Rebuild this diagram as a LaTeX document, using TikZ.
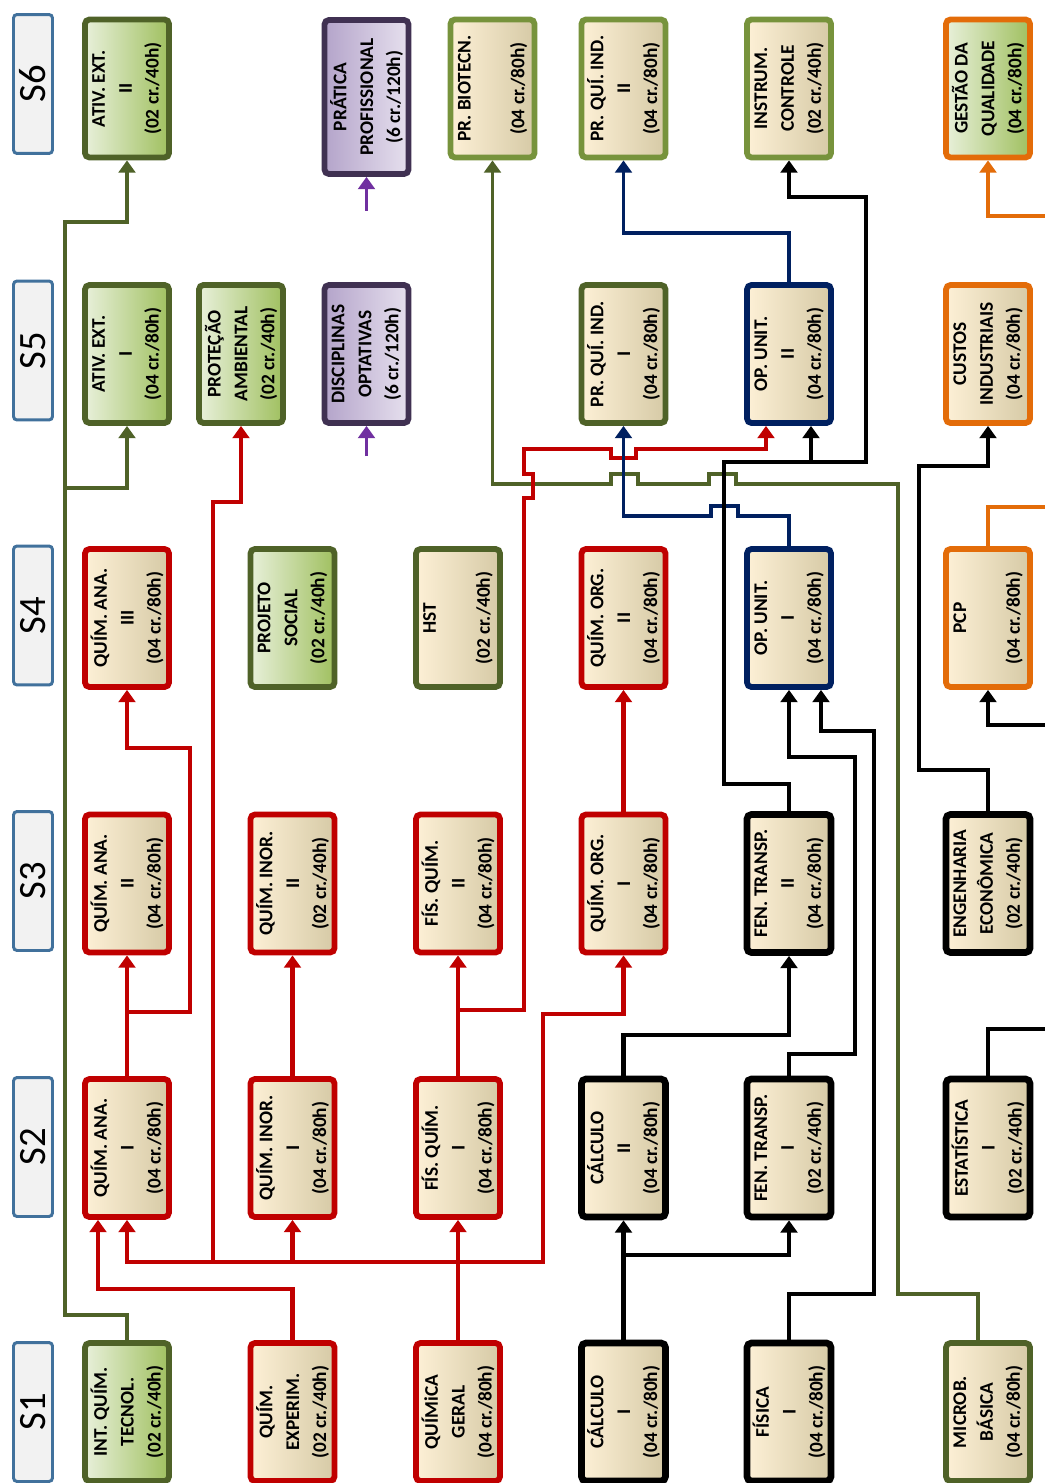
\documentclass[tikz,border=0pt]{standalone}
\usepackage{fontspec}
\setmainfont{Carlito}
\usepackage{xcolor}
\usepackage{tikz}
\usetikzlibrary{arrows.meta,positioning}
\definecolor{chemRed}{RGB}{192,0,0}
\definecolor{oliveDark}{RGB}{79,98,40}
\definecolor{oliveLight}{RGB}{119,147,60}
\definecolor{opNavy}{RGB}{0,32,96}
\definecolor{mgmtOrange}{RGB}{227,108,9}
\definecolor{optPurple}{RGB}{64,49,82}
\definecolor{arrowPurple}{RGB}{112,48,160}
\definecolor{semBlue}{RGB}{65,113,156}
\definecolor{semGray}{RGB}{242,242,242}
\definecolor{creamL}{RGB}{253,240,214}
\definecolor{creamR}{RGB}{214,202,166}
\definecolor{leafL}{RGB}{232,240,218}
\definecolor{leafR}{RGB}{160,192,96}
\definecolor{lilacL}{RGB}{180,164,202}
\definecolor{lilacR}{RGB}{230,224,238}

\tikzset{
  course/.style={rotate=90, draw, line width=3.3pt, rounded corners=2.5pt,
    minimum width=2.76cm, minimum height=1.68cm, inner sep=0pt, align=center,
    font=\bfseries\fontsize{11}{15.3}\selectfont},
  cream/.style={left color=creamL, right color=creamR},
  leaf/.style={left color=leafL, right color=leafR},
  lilac/.style={left color=lilacL, right color=lilacR},
  chem/.style={course, cream, draw=chemRed},
  mathbox/.style={course, cream, draw=black, line width=3.8pt},
  unitop/.style={course, cream, draw=opNavy},
  mgmt/.style={course, cream, draw=mgmtOrange},
  practice/.style={course, cream, draw=oliveLight},
  ext/.style={course, leaf, draw=oliveDark},
  general/.style={course, cream, draw=oliveDark},
  optional/.style={course, lilac, draw=optPurple},
  semester/.style={rotate=90, draw=semBlue, fill=semGray, line width=1.7pt,
    rounded corners=2pt, minimum width=2.78cm, minimum height=0.78cm,
    inner sep=0pt, font=\fontsize{22}{22}\selectfont},
  link/.style={line width=2.2pt, -{Triangle[length=7pt,width=9.5pt]}},
  chemlink/.style={link, draw=chemRed, line width=2.3pt},
  mathlink/.style={link, draw=black, line width=2.3pt},
  oplink/.style={link, draw=opNavy},
  extlink/.style={link, draw=oliveDark, line width=2pt},
  mgmtlink/.style={link, draw=mgmtOrange, line width=2pt},
  optlink/.style={link, draw=arrowPurple},
}

\begin{document}
\begin{tikzpicture}[x=0.02cm,y=-0.02cm]
    \useasboundingbox (0,0) rectangle (1044,1483);
    \fill[white] (0,0) rectangle (1044,1483);

    % semesters
    \node[semester] (s6) at (33,84) {S6};
    \node[semester] (s5) at (33,350.5) {S5};
    \node[semester] (s4) at (33,615.5) {S4};
    \node[semester] (s3) at (33,881) {S3};
    \node[semester] (s2) at (33,1147) {S2};
    \node[semester] (s1) at (33,1412) {S1};

    % S6
    \node[ext] (ae2) at (127,88.5) {ATIV. EXT.\\II\\(02 cr./40h)};
    \node[optional, minimum width=3.08cm] (pp) at (366.5,97) {PRÁTICA\\PROFISSIONAL\\(6 cr./120h)};
    \node[practice] (pbio) at (492.5,88.5) {PR. BIOTECN.\\\mbox{}\\(04 cr./80h)};
    \node[practice] (pqi2) at (623.5,88.5) {PR. QUÍ. IND.\\II\\(04 cr./80h)};
    \node[practice] (ins) at (789,88.5) {INSTRUM.\\CONTROLE\\(02 cr./40h)};
    \node[mgmt, leaf] (gq) at (988,88.5) {GESTÃO DA\\QUALIDADE\\(04 cr./80h)};

    % S5
    \node[ext] (ae1) at (127,354) {ATIV. EXT.\\I\\(04 cr./80h)};
    \node[ext] (pa) at (241,354) {PROTEÇÃO\\AMBIENTAL\\(02 cr./40h)};
    \node[optional] (do) at (366.5,354) {DISCIPLINAS\\OPTATIVAS\\(6 cr./120h)};
    \node[general] (pqi1) at (623.5,354) {PR. QUÍ. IND.\\I\\(04 cr./80h)};
    \node[unitop] (ou2) at (789,354) {OP. UNIT.\\II\\(04 cr./80h)};
    \node[mgmt] (ci) at (988,354) {CUSTOS\\INDUSTRIAIS\\(04 cr./80h)};

    % S4
    \node[chem] (qa3) at (127,618) {QUÍM. ANA.\\III\\(04 cr./80h)};
    \node[ext] (ps) at (292.5,618) {PROJETO\\SOCIAL\\(02 cr./40h)};
    \node[general] (hst) at (458,618) {HST\\\mbox{}\\(02 cr./40h)};
    \node[chem] (qo2) at (623.5,618) {QUÍM. ORG.\\II\\(04 cr./80h)};
    \node[unitop] (ou1) at (789,618) {OP. UNIT.\\I\\(04 cr./80h)};
    \node[mgmt] (pcp) at (988,618) {PCP\\\mbox{}\\(04 cr./80h)};

    % S3
    \node[chem] (qa2) at (127,883.5) {QUÍM. ANA.\\II\\(04 cr./80h)};
    \node[chem] (qi2) at (292.5,883.5) {QUÍM. INOR.\\II\\(02 cr./40h)};
    \node[chem] (fq2) at (458,883.5) {FÍS. QUÍM.\\II\\(04 cr./80h)};
    \node[chem] (qo1) at (623.5,883.5) {QUÍM. ORG.\\I\\(04 cr./80h)};
    \node[mathbox] (ft2) at (789,883.5) {FEN. TRANSP.\\II\\(04 cr./80h)};
    \node[mathbox] (ee) at (988,883.5) {ENGENHARIA\\ECONÔMICA\\(02 cr./40h)};

    % S2
    \node[chem] (qa1) at (127,1148) {QUÍM. ANA.\\I\\(04 cr./80h)};
    \node[chem] (qi1) at (292.5,1148) {QUÍM. INOR.\\I\\(04 cr./80h)};
    \node[chem] (fq1) at (458,1148) {FÍS. QUÍM.\\I\\(04 cr./80h)};
    \node[mathbox] (c2) at (623.5,1148) {CÁLCULO\\II\\(04 cr./80h)};
    \node[mathbox] (ft1) at (789,1148) {FEN. TRANSP.\\I\\(02 cr./40h)};
    \node[mathbox] (est) at (988,1148) {ESTATÍSTICA\\I\\(02 cr./40h)};

    % S1
    \node[ext] (iqt) at (127,1412) {INT. QUÍM.\\TECNOL.\\(02 cr./40h)};
    \node[chem] (qe) at (292.5,1412) {QUÍM.\\EXPERIM.\\(02 cr./40h)};
    \node[chem] (qg) at (458,1412) {QUÍMiCA\\GERAL\\(04 cr./80h)};
    \node[mathbox] (c1) at (623.5,1412) {CÁLCULO\\I\\(04 cr./80h)};
    \node[mathbox] (fis) at (789,1412) {FÍSICA\\I\\(04 cr./80h)};
    \node[general] (mb) at (988,1412) {MICROB.\\BÁSICA\\(04 cr./80h)};

    % free ends and forks
    \coordinate (g-fork) at (65,488);
    \coordinate (r-qg) at (458,1262);
    \coordinate (r-pa) at (213,1262);
    \coordinate (r-qa) at (127,1012);
    \coordinate (r-fq) at (458,1010);
    \coordinate (k-c1) at (623.5,1255);
    \coordinate (k-fork) at (811,462);
    \coordinate (est-out) at (1050,1029);
    \coordinate (pcp-in) at (1050,725);
    \coordinate (pcp-out) at (1050,507);
    \coordinate (gq-in) at (1050,216);
    \coordinate (pp-foot) at (366.5,211);
    \coordinate (do-foot) at (366.5,456);

    % olive links
    \draw[extlink] (iqt.east) |- (65,1315) -- (65,222) -| (ae2.west);
    \draw[extlink] (g-fork) -| (ae1.west);
    \draw[extlink] (mb.east -| 978,0) |- (898,1294) -- (898,484)
        -- (736,484) -- (736,474) -- (709,474) -- (709,484)
        -- (638,484) -- (638,474) -- (611,474) -- (611,484) -| (pbio.west);

    % red links
    \draw[chemlink] (qg.east) -- (fq1.west);
    \draw[chemlink] (r-qg) -| (qa1.west);
    \draw[chemlink] (r-qg) -| (qi1.west);
    \draw[chemlink] (r-pa) -- (213,502) -| (pa.west);
    \draw[chemlink] (r-qg) -| (543,1014) -| (qo1.west);
    \draw[chemlink] (qe.east) |- (98,1289) -- (qa1.west -| 98,0);
    \draw[chemlink] (qa1.east) -- (qa2.west);
    \draw[chemlink] (r-qa) -- (190,1012) -- (190,748) -| (qa3.west);
    \draw[chemlink] (qi1.east) -- (qi2.west);
    \draw[chemlink] (fq1.east) -- (fq2.west);
    \draw[chemlink] (r-fq) -- (524,1010) -- (524,498) -- (533,498) -- (533,474)
        -- (524,474) -- (524,449) -- (611,449) -- (611,458) -- (636,458)
        -- (636,449) -| (ou2.west -| 766,0);
    \draw[chemlink] (qo1.east) -- (qo2.west);

    % navy links
    \draw[oplink] (ou1.east) |- (738,516) -- (738,506) -- (711,506) -- (711,516) -| (pqi1.west);
    \draw[oplink] (ou2.east) -- (789,233) -| (pqi2.west);

    % black links
    \draw[mathlink] (c1.east) -- (c2.west);
    \draw[mathlink] (k-c1) -| (ft1.west);
    \draw[mathlink] (c2.east) -- (623.5,1035) -| (ft2.west);
    \draw[mathlink] (fis.east) |- (874,1294) -- (874,731) -| (ou1.west -| 821,0);
    \draw[mathlink] (ft1.east) |- (855,1054) -- (855,757) -| (ou1.west);
    \draw[mathlink] (ft2.east) |- (724,784) -- (724,462) -- (866,462) -- (866,197) -| (ins.west);
    \draw[mathlink] (k-fork) -- (ou2.west -| k-fork);
    \draw[mathlink] (ee.east) |- (919,770) -- (919,466) -| (ci.west);
    \draw[mathlink, -] (est.east) |- (est-out);
    \draw[mathlink] (pcp-in) -| (pcp.west);

    % orange links
    \draw[mgmtlink, -] (pcp.east) |- (pcp-out);
    \draw[mgmtlink] (gq-in) -| (gq.west);

    % optional blocks
    \draw[optlink] (pp-foot) -- (pp.west);
    \draw[optlink] (do-foot) -- (do.west);
\end{tikzpicture}
\end{document}
